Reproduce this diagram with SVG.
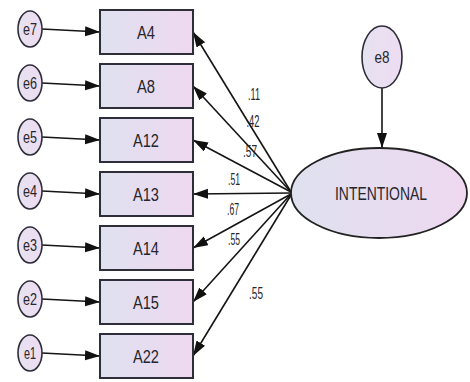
<svg xmlns="http://www.w3.org/2000/svg" width="470" height="382" viewBox="0 0 470 382">
<defs>
<linearGradient id="g" x1="0" y1="0" x2="1" y2="0">
<stop offset="0" stop-color="#dfe1ef"/>
<stop offset="1" stop-color="#eed8f0"/>
</linearGradient>
<linearGradient id="ge" x1="0" y1="0" x2="1" y2="0">
<stop offset="0" stop-color="#e6e2f0"/>
<stop offset="1" stop-color="#eedcf2"/>
</linearGradient>
<marker id="ah" markerUnits="userSpaceOnUse" markerWidth="16" markerHeight="12" refX="15" refY="5" orient="auto">
<path d="M0,0 L15,5 L0,10 z" fill="#111"/>
</marker>
</defs>
<style>
.box{fill:url(#g);stroke:#2e2e3a;stroke-width:2}
.err{fill:url(#ge);stroke:#2e2e3a;stroke-width:1.6}
.lat{fill:url(#g);stroke:#222;stroke-width:1.8}
.lbl{font-family:"Liberation Sans",Arial,sans-serif;fill:#26262c;text-anchor:middle}
.bl{font-size:18px}
.el{font-size:16px}
.num{font-size:17px}
.con line{stroke:#151515;stroke-width:1.6;marker-end:url(#ah)}
</style>
<rect width="470" height="382" fill="#fff"/>
<g class="con">
<line x1="42" y1="29" x2="100" y2="32"/>
<line x1="42" y1="83" x2="100" y2="86"/>
<line x1="42" y1="137" x2="100" y2="140"/>
<line x1="42" y1="191" x2="100" y2="194"/>
<line x1="42" y1="245" x2="100" y2="248"/>
<line x1="42" y1="299" x2="100" y2="302"/>
<line x1="42" y1="353" x2="100" y2="356"/>
<line x1="382" y1="88" x2="382" y2="148"/>
<line x1="291" y1="192" x2="193" y2="32"/>
<line x1="291" y1="192" x2="193" y2="86"/>
<line x1="291" y1="192" x2="193" y2="140"/>
<line x1="291" y1="193" x2="193" y2="194"/>
<line x1="291" y1="194" x2="193" y2="248"/>
<line x1="291" y1="194" x2="193" y2="302"/>
<line x1="291" y1="195" x2="193" y2="356"/>
<text class="lbl num" x="254" y="100" textLength="12" lengthAdjust="spacingAndGlyphs">.11</text>
<text class="lbl num" x="253" y="127" textLength="13" lengthAdjust="spacingAndGlyphs">.42</text>
<text class="lbl num" x="250" y="157" textLength="14" lengthAdjust="spacingAndGlyphs">.57</text>
<text class="lbl num" x="234" y="185" textLength="12" lengthAdjust="spacingAndGlyphs">.51</text>
<text class="lbl num" x="233" y="215" textLength="12" lengthAdjust="spacingAndGlyphs">.67</text>
<text class="lbl num" x="234" y="245" textLength="12" lengthAdjust="spacingAndGlyphs">.55</text>
<text class="lbl num" x="256" y="299" textLength="14" lengthAdjust="spacingAndGlyphs">.55</text>
</g>
<g id="A4"><rect class="box" x="100" y="10" width="93" height="44"/><text class="lbl bl" x="146" y="39" textLength="18" lengthAdjust="spacingAndGlyphs">A4</text></g>
<g id="A8"><rect class="box" x="100" y="64" width="93" height="44"/><text class="lbl bl" x="146" y="93" textLength="18" lengthAdjust="spacingAndGlyphs">A8</text></g>
<g id="A12"><rect class="box" x="100" y="118" width="93" height="44"/><text class="lbl bl" x="146" y="147" textLength="26" lengthAdjust="spacingAndGlyphs">A12</text></g>
<g id="A13"><rect class="box" x="100" y="172" width="93" height="44"/><text class="lbl bl" x="146" y="201" textLength="26" lengthAdjust="spacingAndGlyphs">A13</text></g>
<g id="A14"><rect class="box" x="100" y="226" width="93" height="44"/><text class="lbl bl" x="146" y="255" textLength="26" lengthAdjust="spacingAndGlyphs">A14</text></g>
<g id="A15"><rect class="box" x="100" y="280" width="93" height="44"/><text class="lbl bl" x="146" y="309" textLength="26" lengthAdjust="spacingAndGlyphs">A15</text></g>
<g id="A22"><rect class="box" x="100" y="334" width="93" height="44"/><text class="lbl bl" x="146" y="363" textLength="26" lengthAdjust="spacingAndGlyphs">A22</text></g>
<g id="e7"><ellipse class="err" cx="30" cy="29" rx="12" ry="18"/><text class="lbl el" x="30" y="35" textLength="14" lengthAdjust="spacingAndGlyphs">e7</text></g>
<g id="e6"><ellipse class="err" cx="30" cy="83" rx="12" ry="18"/><text class="lbl el" x="30" y="89" textLength="14" lengthAdjust="spacingAndGlyphs">e6</text></g>
<g id="e5"><ellipse class="err" cx="30" cy="137" rx="12" ry="18"/><text class="lbl el" x="30" y="143" textLength="14" lengthAdjust="spacingAndGlyphs">e5</text></g>
<g id="e4"><ellipse class="err" cx="30" cy="191" rx="12" ry="18"/><text class="lbl el" x="30" y="197" textLength="14" lengthAdjust="spacingAndGlyphs">e4</text></g>
<g id="e3"><ellipse class="err" cx="30" cy="245" rx="12" ry="18"/><text class="lbl el" x="30" y="251" textLength="14" lengthAdjust="spacingAndGlyphs">e3</text></g>
<g id="e2"><ellipse class="err" cx="30" cy="299" rx="12" ry="18"/><text class="lbl el" x="30" y="305" textLength="14" lengthAdjust="spacingAndGlyphs">e2</text></g>
<g id="e1"><ellipse class="err" cx="30" cy="353" rx="12" ry="18"/><text class="lbl el" x="30" y="359" textLength="12" lengthAdjust="spacingAndGlyphs">e1</text></g>
<g id="e8"><ellipse class="err" cx="382" cy="57" rx="20" ry="31"/><text class="lbl el" x="382" y="63" textLength="15" lengthAdjust="spacingAndGlyphs">e8</text></g>
<g id="INTENTIONAL"><ellipse class="lat" cx="379" cy="193" rx="88" ry="45"/><text class="lbl bl" x="381" y="200" textLength="92" lengthAdjust="spacingAndGlyphs">INTENTIONAL</text></g>
</svg>
